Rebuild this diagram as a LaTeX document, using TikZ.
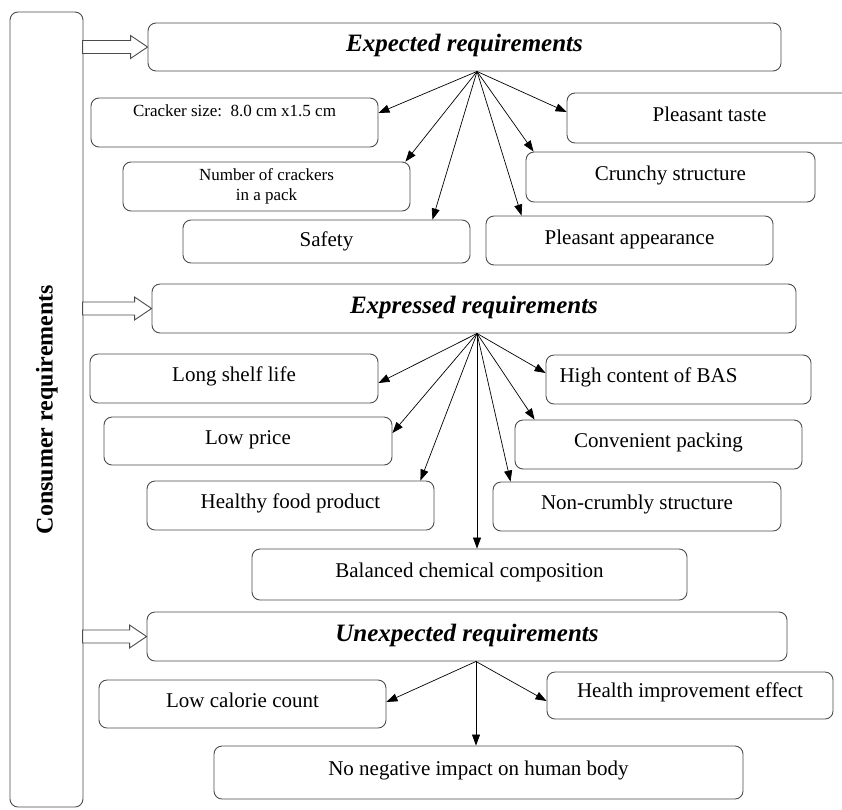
\documentclass[tikz,border=0pt]{standalone}
\usepackage{fontspec}
\setmainfont{Liberation Serif}
\usetikzlibrary{arrows.meta}

\tikzset{
  box/.style={draw=black!70, line width=0.9pt, rounded corners=8pt, inner sep=0pt, fill=white},
  req/.style={box, font=\fontsize{21}{24}\selectfont, text height=14pt, text depth=8pt},
  head/.style={box, font=\fontsize{25}{28}\selectfont\bfseries\itshape, text height=16pt, text depth=7pt},
  link/.style={-{Triangle[length=11pt,width=8pt]}, line width=0.7pt},
  hollow/.style={draw=black!70, line width=0.9pt, fill=white}
}

% hollow arrow from the left bar into a header: node, shaft length
\newcommand{\hollowarrow}[2]{%
  \draw[hollow] (#1.west) -- ++(-17,-11.5) -- ++(0,5) -- ++(-#2,0) -- ++(0,13) -- ++(#2,0) -- ++(0,5) -- cycle;}

\begin{document}
\begin{tikzpicture}[x=1pt,y=-1pt]
  \useasboundingbox (0,0) rectangle (842,809);
  \clip (0,0) rectangle (842,809);

  % Left bar
  \node[box, rotate=90, minimum width=795, minimum height=73, font=\fontsize{24}{26}\selectfont\bfseries, text height=16pt, text depth=4pt] (consumer) at (46.5,409.5) {Consumer requirements};

  % Expected requirements
  \node[head, minimum width=633, minimum height=48] (exp) at (464.5,47) {Expected requirements};
  \node[box, minimum width=287, minimum height=49, font=\fontsize{17}{20}\selectfont, text height=12pt, text depth=25pt] (cracker) at (234.5,122.5) {Cracker size:\ \ 8.0 cm x1.5 cm};
  \node[box, minimum width=287, minimum height=49, font=\fontsize{17}{20}\selectfont, align=center] (number) at (266.5,186.5) {Number of crackers\\in a pack};
  \node[req, minimum width=287, minimum height=43, text depth=4pt] (safety) at (326.5,241.5) {Safety};
  \node[req, minimum width=285, minimum height=50] (taste) at (709.5,118) {Pleasant taste};
  \node[req, minimum width=289, minimum height=50] (crunchy) at (670.5,177) {Crunchy structure};
  \node[req, minimum width=287, minimum height=49, text depth=6pt] (appear) at (629.5,240.5) {Pleasant appearance};

  \draw[link] ([xshift=12.5]exp.south) -- ([yshift=9.5]cracker.east);
  \draw[link] ([xshift=12.5]exp.south) -- ([xshift=-5]number.north east);
  \draw[link] ([xshift=12.5]exp.south) -- ([xshift=106]safety.north);
  \draw[link] ([xshift=12.5]exp.south) -- ([xshift=-108]appear.north);
  \draw[link] ([xshift=12.5]exp.south) -- ([xshift=8]crunchy.north west);
  \draw[link] ([xshift=12.5]exp.south) -- ([yshift=6]taste.west);

  % Expressed requirements
  \node[head, minimum width=644, minimum height=49] (expr) at (474,308.5) {Expressed requirements};
  \node[req, minimum width=288, minimum height=49] (shelf) at (234,378.5) {Long shelf life};
  \node[req, minimum width=288, minimum height=48] (price) at (248,441) {Low price};
  \node[req, minimum width=287, minimum height=49] (healthy) at (290.5,505.5) {Healthy food product};
  \node[req, minimum width=435, minimum height=51] (balanced) at (469.5,574.5) {Balanced chemical composition};
  \node[req, minimum width=265, minimum height=49] (bas) at (678.5,379.5) {High content of BAS\hspace*{60pt}};
  \node[req, minimum width=287, minimum height=49] (packing) at (658.5,444.5) {Convenient packing};
  \node[req, minimum width=288, minimum height=49] (crumbly) at (637,506.5) {Non-crumbly structure};

  \draw[link] ([xshift=3]expr.south) -- ([yshift=-4.5]shelf.east);
  \draw[link] ([xshift=3]expr.south) -- ([yshift=8]price.east);
  \draw[link] ([xshift=3]expr.south) -- ([xshift=-14]healthy.north east);
  \draw[link] ([xshift=3]expr.south) -- ([xshift=7.5]balanced.north);
  \draw[link] ([xshift=3]expr.south) -- ([xshift=18]crumbly.north west);
  \draw[link] ([xshift=3]expr.south) -- ([xshift=20]packing.north west);
  \draw[link] ([xshift=3]expr.south) -- ([yshift=6.5]bas.west);

  % Unexpected requirements
  \node[head, minimum width=640, minimum height=49] (unexp) at (467,636.5) {Unexpected requirements};
  \node[req, minimum width=287, minimum height=48] (calorie) at (242.5,704) {Low calorie count};
  \node[req, minimum width=286, minimum height=47, text depth=10pt] (health) at (690,695.5) {Health improvement effect};
  \node[req, minimum width=529, minimum height=53] (noneg) at (478.5,772.5) {No negative impact on human body};

  \draw[link] ([xshift=9]unexp.south) -- ([yshift=2]calorie.east);
  \draw[link] ([xshift=9]unexp.south) -- ([yshift=-5.5]health.west);
  \draw[link] ([xshift=9]unexp.south) -- ([xshift=-2.5]noneg.north);

  % Hollow arrows
  \hollowarrow{exp}{48}
  \hollowarrow{expr}{52}
  \hollowarrow{unexp}{47}
\end{tikzpicture}
\end{document}
